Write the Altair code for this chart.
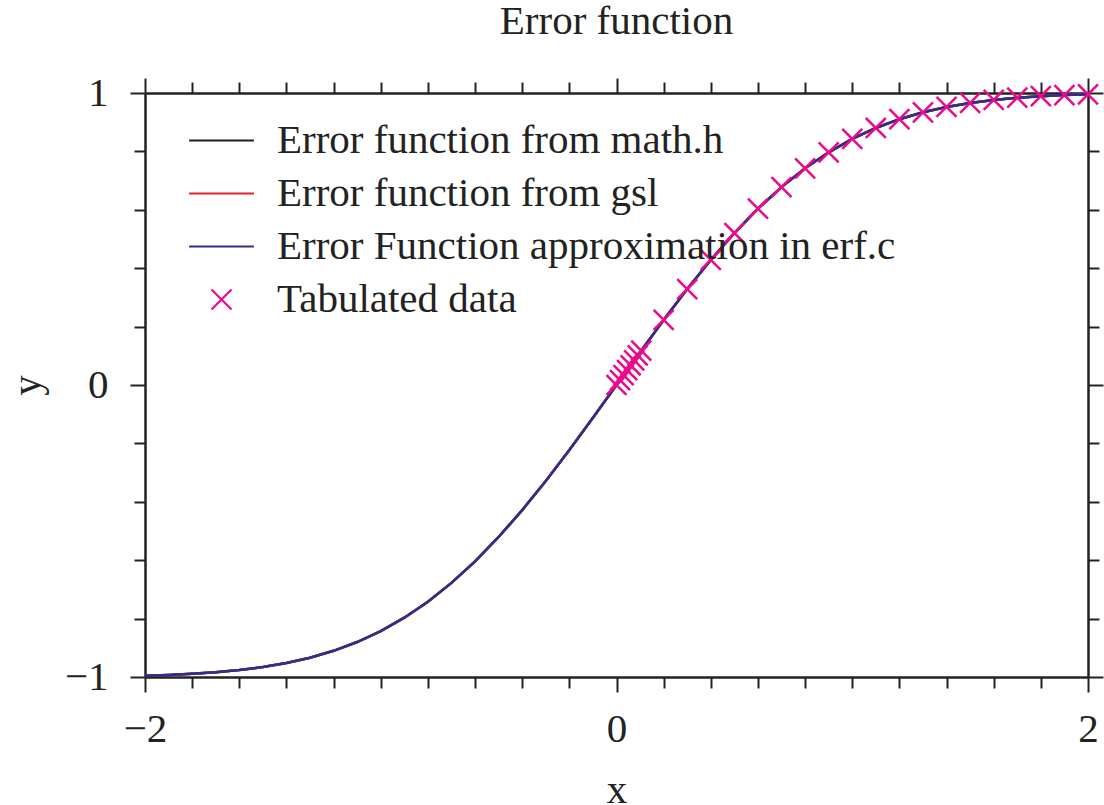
import altair as alt
import pandas as pd

# ---- data ----
curve_x = [-2.0, -1.9, -1.8, -1.7, -1.6, -1.5, -1.4, -1.3, -1.2, -1.1, -1.0,
           -0.9, -0.8, -0.7, -0.6, -0.5, -0.4, -0.3, -0.2, -0.1, 0.0,
           0.1, 0.2, 0.3, 0.4, 0.5, 0.6, 0.7, 0.8, 0.9, 1.0,
           1.1, 1.2, 1.3, 1.4, 1.5, 1.6, 1.7, 1.8, 1.9, 2.0]
curve_y = [-0.9953, -0.9928, -0.9891, -0.9838, -0.9763, -0.9661, -0.9523, -0.9340, -0.9103, -0.8802, -0.8427,
           -0.7969, -0.7421, -0.6778, -0.6039, -0.5205, -0.4284, -0.3286, -0.2227, -0.1125, 0.0,
           0.1125, 0.2227, 0.3286, 0.4284, 0.5205, 0.6039, 0.6778, 0.7421, 0.7969, 0.8427,
           0.8802, 0.9103, 0.9340, 0.9523, 0.9661, 0.9763, 0.9838, 0.9891, 0.9928, 0.9953]

tab_x = [0.0, 0.015, 0.03, 0.045, 0.06, 0.075, 0.09, 0.105,
         0.2, 0.3, 0.4, 0.5, 0.6, 0.7, 0.8, 0.9, 1.0,
         1.1, 1.2, 1.3, 1.4, 1.5, 1.6, 1.7, 1.8, 1.9, 2.0]
tab_y = [0.0, 0.0169, 0.0338, 0.0507, 0.0676, 0.0845, 0.1013, 0.1180,
         0.2227, 0.3286, 0.4284, 0.5205, 0.6039, 0.6778, 0.7421, 0.7969, 0.8427,
         0.8802, 0.9103, 0.9340, 0.9523, 0.9661, 0.9763, 0.9838, 0.9891, 0.9928, 0.9953]

series = ["Error function from math.h",
          "Error function from gsl",
          "Error Function approximation in erf.c",
          "Tabulated data"]
colors = ["#1e1e1e", "#e8202a", "#2e2e8e", "#ea0a8c"]

x_ticks = [-2.0, -1.8, -1.6, -1.4, -1.2, -1.0, -0.8, -0.6, -0.4, -0.2, 0.0,
           0.2, 0.4, 0.6, 0.8, 1.0, 1.2, 1.4, 1.6, 1.8, 2.0]
y_ticks = [-1.0, -0.8, -0.6, -0.4, -0.2, 0.0, 0.2, 0.4, 0.6, 0.8, 1.0]

FONT = "Liberation Serif"
FS = 41
INK = "#222222"

line_rows = []
for s in series[:3]:
    for xv, yv in zip(curve_x, curve_y):
        line_rows.append({"x": xv, "y": yv, "series": s})
lines_df = pd.DataFrame(line_rows)
tab_df = pd.DataFrame({"x": tab_x, "y": tab_y, "series": series[3]})

SYM = 2916
stroke_path = "M-1.2,0L1.2,0"
cross_path = "M-0.37,-0.37L0.37,0.37M-0.37,0.37L0.37,-0.37"

x_major = "abs(datum.value) < 0.001 || abs(abs(datum.value) - 2) < 0.001"
y_major = "abs(datum.value) < 0.001 || abs(abs(datum.value) - 1) < 0.001"

xscale = alt.Scale(domain=[-2, 2], nice=False, zero=False)
yscale = alt.Scale(domain=[-1, 1], nice=False, zero=False)

color_enc = alt.Color("series:N",
                      scale=alt.Scale(domain=series, range=colors),
                      legend=alt.Legend(title=None, orient="none",
                                        legendX=48, legendY=19))

lines = alt.Chart(lines_df).mark_line(strokeWidth=2.5, clip=False).encode(
    x=alt.X("x:Q", scale=xscale,
            axis=alt.Axis(orient="bottom", values=x_ticks, title="x",
                          labelExpr=f"({x_major}) ? format(datum.value, 'd') : ''",
                          tickSize={"condition": {"test": x_major, "value": 15}, "value": 11},
                          labelPadding=17, titlePadding=21)),
    y=alt.Y("y:Q", scale=yscale,
            axis=alt.Axis(orient="left", values=y_ticks, title="y",
                          labelExpr=f"({y_major}) ? format(datum.value, 'd') : ''",
                          tickSize={"condition": {"test": y_major, "value": 15}, "value": 11},
                          labelPadding=22, titlePadding=16)),
    color=color_enc,
)

points = alt.Chart(tab_df).mark_point(filled=False, size=SYM, strokeWidth=2.5, opacity=1).encode(
    x=alt.X("x:Q", scale=xscale,
            axis=alt.Axis(orient="top", values=x_ticks, title="", labels=False,
                          tickSize={"condition": {"test": x_major, "value": 15}, "value": 11})),
    y=alt.Y("y:Q", scale=yscale,
            axis=alt.Axis(orient="right", values=y_ticks, title="", labels=False,
                          tickSize={"condition": {"test": y_major, "value": 15}, "value": 11})),
    color=color_enc,
    shape=alt.Shape("series:N",
                    scale=alt.Scale(domain=series,
                                    range=[stroke_path, stroke_path, stroke_path, cross_path])),
)

chart = alt.layer(lines, points).resolve_axis(
    x="independent", y="independent"
).properties(
    width=943, height=584,
    autosize=alt.AutoSizeParams(type="none"),
    padding={"left": 145, "top": 93, "right": 16, "bottom": 128},
    title=alt.Title("Error function", font=FONT, fontSize=FS, fontWeight="normal",
                    color=INK, anchor="middle", baseline="alphabetic", offset=-3),
).configure_view(
    stroke=None
).configure_axis(
    labelFont=FONT, labelFontSize=FS, labelColor=INK,
    titleFont=FONT, titleFontSize=FS, titleColor=INK, titleFontWeight="normal",
    domainColor=INK, domainWidth=2.5, tickColor=INK, tickWidth=2,
    grid=False, labelFlush=False, labelOverlap=False,
).configure_legend(
    labelFont=FONT, labelFontSize=FS, labelColor=INK, labelLimit=0,
    symbolSize=SYM, symbolStrokeWidth=2.2, labelOffset=27, rowPadding=4,
    padding=0,
)

chart.save("out.html", embed_options={"renderer": "svg", "actions": False})
